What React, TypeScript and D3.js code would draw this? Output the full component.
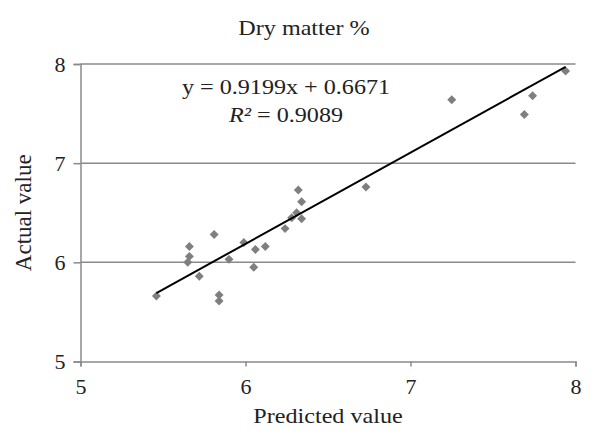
import React, { useEffect, useRef } from 'react';
import * as d3 from 'd3';

// Predicted vs actual dry matter values
const predicted: number[] = [
  5.46, 5.66, 5.66, 5.65, 5.72, 5.81, 5.84, 5.84, 5.90, 5.99, 6.06, 6.05,
  6.12, 6.24, 6.28, 6.31, 6.34, 6.34, 6.32, 6.73, 7.25, 7.69, 7.74, 7.94,
];
const actual: number[] = [
  5.66, 6.16, 6.06, 6.00, 5.86, 6.28, 5.67, 5.61, 6.03, 6.20, 6.13, 5.95,
  6.16, 6.34, 6.45, 6.50, 6.44, 6.61, 6.73, 6.76, 7.64, 7.49, 7.68, 7.93,
];
const ticks: number[] = [5, 6, 7, 8];
const slope = 0.9199;
const intercept = 0.6671;

const FONT = '"Liberation Serif", "Times New Roman", serif';
// the original picture is a little stretched sideways
const SX = 1.15;

const App: React.FC = () => {
  const ref = useRef<SVGSVGElement | null>(null);

  useEffect(() => {
    const svg = d3.select(ref.current);
    svg.selectAll('*').remove();

    const W = 596;
    const H = 434;
    const left = 80.5;
    const right = 575.5;
    const top = 64;
    const bottom = 361.5;

    svg.append('rect').attr('width', W).attr('height', H).attr('fill', '#fff');

    const x = d3.scaleLinear().domain([5, 8]).range([left, right]);
    const y = d3.scaleLinear().domain([5, 8]).range([bottom, top]);

    const grid = '#8a8a8a';

    // horizontal gridlines
    svg.append('g')
      .selectAll('line')
      .data(ticks.slice(1))
      .enter()
      .append('line')
      .attr('x1', left)
      .attr('x2', right)
      .attr('y1', d => y(d))
      .attr('y2', d => y(d))
      .attr('stroke', grid)
      .attr('stroke-width', 1.5);

    // y axis
    const yAxis = svg.append('g')
      .attr('transform', `translate(${left},0)`)
      .call(d3.axisLeft(y).tickValues(ticks).tickSize(7).tickPadding(8).tickFormat(d3.format('d')));
    yAxis.select('.domain').attr('stroke', grid).attr('stroke-width', 1.5);
    yAxis.selectAll('.tick line').attr('stroke', grid).attr('stroke-width', 1.5);
    yAxis.selectAll('.tick text')
      .attr('font-family', FONT)
      .attr('font-size', 22)
      .attr('fill', '#222');

    // x axis
    const xAxis = svg.append('g')
      .attr('transform', `translate(0,${bottom})`)
      .call(d3.axisBottom(x).tickValues(ticks).tickSize(5).tickPadding(12).tickFormat(d3.format('d')));
    xAxis.select('.domain').attr('stroke', grid).attr('stroke-width', 1.5);
    xAxis.selectAll('.tick line').attr('stroke', grid).attr('stroke-width', 1.5);
    xAxis.selectAll('.tick text')
      .attr('font-family', FONT)
      .attr('font-size', 22)
      .attr('fill', '#222');

    // points
    const pts = predicted.map((p, i) => ({ p, a: actual[i] }));
    const diamond = d3.symbol().type(d3.symbolSquare).size(40);
    svg.append('g')
      .selectAll('path')
      .data(pts)
      .enter()
      .append('path')
      .attr('d', diamond)
      .attr('transform', d => `translate(${x(d.p)},${y(d.a)}) rotate(45)`)
      .attr('fill', '#7f7f7f');

    // trend line
    const [x0, x1] = d3.extent(predicted) as [number, number];
    svg.append('line')
      .attr('x1', x(x0))
      .attr('y1', y(slope * x0 + intercept))
      .attr('x2', x(x1))
      .attr('y2', y(slope * x1 + intercept))
      .attr('stroke', '#000')
      .attr('stroke-width', 2);

    // texts
    const txt = (tx: number, ty: number, s: string) =>
      svg.append('text')
        .attr('transform', `translate(${tx},${ty}) scale(${SX},1)`)
        .attr('text-anchor', 'middle')
        .attr('font-family', FONT)
        .attr('font-size', 21)
        .attr('fill', '#222')
        .text(s);

    txt(304, 35, 'Dry matter %');
    txt(286, 94, `y = ${slope}x + ${intercept}`);
    const r2 = txt(286, 122, '');
    r2.append('tspan').attr('font-style', 'italic').text('R²');
    r2.append('tspan').text(' = 0.9089');
    txt(328, 423, 'Predicted value');
    svg.append('text')
      .attr('transform', `translate(31,${(top + bottom) / 2}) rotate(-90)`)
      .attr('text-anchor', 'middle')
      .attr('font-family', FONT)
      .attr('font-size', 23)
      .attr('fill', '#222')
      .text('Actual value');
  }, []);

  return (
    <svg
      ref={ref}
      width={596}
      height={434}
      style={{ position: 'absolute', left: 0, top: 0 }}
    />
  );
};

export default App;
